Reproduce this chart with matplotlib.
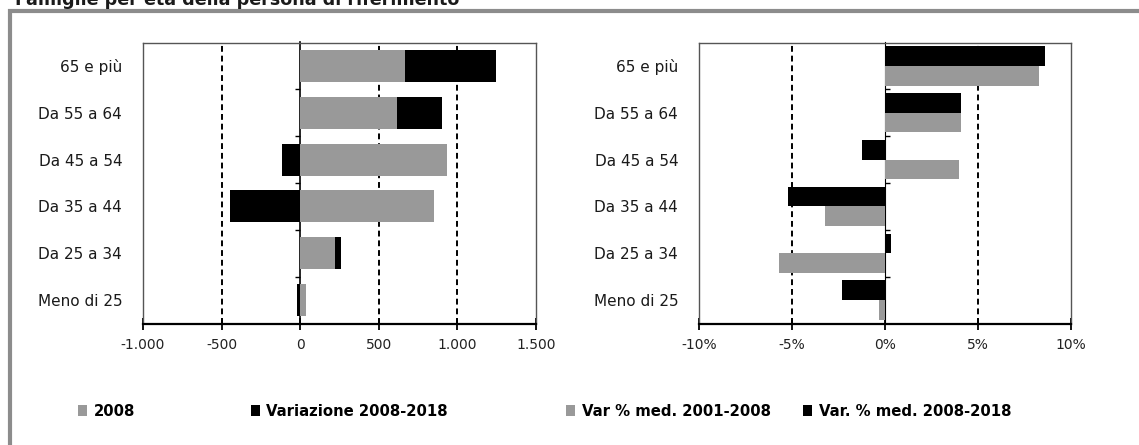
import matplotlib.pyplot as plt
import numpy as np
from matplotlib.patches import Rectangle
from matplotlib.ticker import FuncFormatter

plt.rcParams['font.family'] = ['DejaVu Sans']
plt.rcParams['axes.unicode_minus'] = False

# dati
classi = ['65 e più', 'Da 55 a 64', 'Da 45 a 54', 'Da 35 a 44', 'Da 25 a 34', 'Meno di 25']
fam_2008 = np.array([664, 618, 932, 852, 222, 35])
var_2008_2018 = np.array([581, 282, -118, -446, 35, -22])
var_med_2001_2008 = np.array([8.3, 4.1, 4.0, -3.2, -5.7, -0.3])
var_med_2008_2018 = np.array([8.6, 4.1, -1.25, -5.2, 0.3, -2.3])

grigio = '#999999'
W, H = 1139, 445

fig = plt.figure(figsize=(W / 100, H / 100), dpi=100)

# cornice grigia attorno al grafico
fig.patches.append(Rectangle((10 / W, -0.2), 1.3, 1.2 - 11 / H, transform=fig.transFigure,
                             fill=False, edgecolor='#8c8c8c', linewidth=3, clip_on=False))

# titolo (tagliato in alto come nell'originale)
fig.text(15 / W, 1 - 5 / H, 'Famiglie per età della persona di riferimento',
         fontsize=12.6, fontweight='bold', color='#1a1a1a', va='baseline', ha='left')

y = np.arange(len(classi))


def stile_assi(ax, xlim, xticks, griglia, fmt, zero_frac):
    ax.set_xlim(*xlim)
    ax.set_ylim(len(classi) - 0.5, -0.5)
    ax.set_xticks(xticks)
    ax.xaxis.set_major_formatter(FuncFormatter(fmt))
    ax.tick_params(axis='x', direction='inout', length=9, width=1.3, pad=6,
                   labelsize=10, colors='black', labelcolor='#222222')
    ax.set_yticks(y)
    ax.set_yticklabels(classi)
    ax.tick_params(axis='y', length=0, pad=15, labelsize=11, labelcolor='#1a1a1a')
    for v in griglia:
        ax.axvline(v, color='black', linestyle=(0, (3, 2)), linewidth=1.4, zorder=0)
    for s in ['top', 'right', 'left']:
        ax.spines[s].set_color('#555555')
        ax.spines[s].set_linewidth(1)
    ax.spines['bottom'].set_linewidth(1.6)
    ax.spines['bottom'].set_color('black')
    # asse verticale sullo zero con tacche tra le categorie
    sec = ax.secondary_yaxis(zero_frac)
    sec.set_yticks(y[:-1] + 0.5)
    sec.set_yticklabels([])
    sec.tick_params(direction='out', length=3.5, width=1)
    sec.spines['left'].set_linewidth(1.2)


# pannello sinistro: valori assoluti
ax1 = fig.add_axes([143 / W, 1 - 323.5 / H, 393 / W, 281 / H])
ax1.barh(y, fam_2008, height=0.68, color=grigio, label='2008', zorder=2)
base = np.where(var_2008_2018 > 0, fam_2008, 0)
ax1.barh(y, var_2008_2018, left=base, height=0.68, color='black',
         label='Variazione 2008-2018', zorder=2)
stile_assi(ax1, (-1000, 1500), [-1000, -500, 0, 500, 1000, 1500], [-500, 500, 1000],
           lambda v, p: f'{int(v):,}'.replace(',', '.'), 0.4)

# pannello destro: variazioni medie percentuali
ax2 = fig.add_axes([699 / W, 1 - 323.5 / H, 372 / W, 281 / H])
ax2.barh(y + 0.21, var_med_2001_2008, height=0.42, color=grigio,
         label='Var % med. 2001-2008', zorder=2)
ax2.barh(y - 0.21, var_med_2008_2018, height=0.42, color='black',
         label='Var. % med. 2008-2018', zorder=2)
stile_assi(ax2, (-10, 10), [-10, -5, 0, 5, 10], [-5, 5],
           lambda v, p: f'{int(v)}%', 0.5)

# legende
leg_kw = dict(loc='center left', ncol=2, frameon=False, borderpad=0, borderaxespad=0,
              handlelength=0.6, handleheight=0.8, handletextpad=0.45,
              prop={'size': 10.7, 'weight': 'bold'}, bbox_transform=fig.transFigure)
l1 = fig.legend(*ax1.get_legend_handles_labels(), bbox_to_anchor=(78 / W, 1 - 411 / H),
                columnspacing=7.8, **leg_kw)
l2 = fig.legend(*ax2.get_legend_handles_labels(), bbox_to_anchor=(566 / W, 1 - 411 / H),
                columnspacing=2.2, **leg_kw)

fig.savefig('out.png', dpi=100)
